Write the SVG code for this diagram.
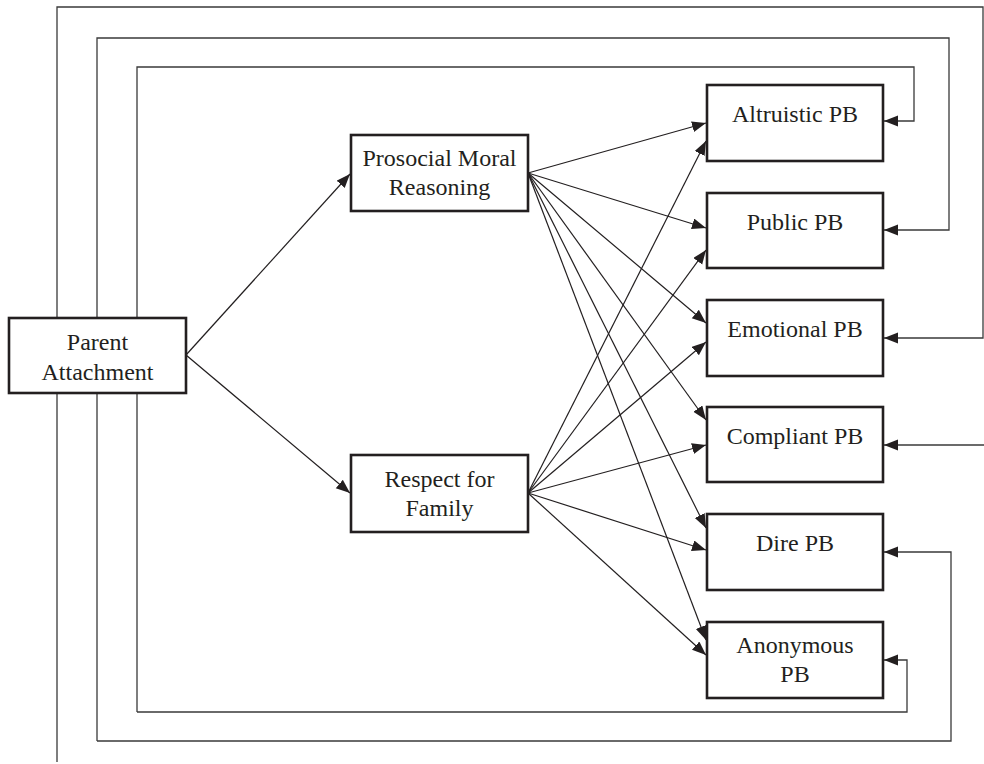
<svg xmlns="http://www.w3.org/2000/svg" width="984" height="764" viewBox="0 0 984 764">
<defs>
<marker id="ah" markerUnits="userSpaceOnUse" markerWidth="15" markerHeight="12" refX="14" refY="5.5" orient="auto">
<path d="M0,0 L14,5.5 L0,11 z" fill="#231f20"/>
</marker>
<style>
.box{fill:#fff;stroke:#231f20;stroke-width:2.6}
.t{font-family:"Liberation Serif","Times New Roman",serif;font-size:24px;fill:#231f20;text-anchor:middle}
.c{fill:none;stroke:#231f20;stroke-width:1.2;marker-end:url(#ah)}
.lp{fill:none;stroke:#3a3a3a;stroke-width:1.3}
</style>
</defs>
<rect width="984" height="764" fill="#fff"/>
<g id="connectors">
<path class="lp" d="M57,762 V7 H983 V338 H884" marker-end="url(#ah)"/>
<path class="lp" d="M984,445 H884" marker-end="url(#ah)"/>
<path class="lp" d="M97,741 V38 H949 V230 H884" marker-end="url(#ah)"/>
<path class="lp" d="M97,741 H951 V552 H884" marker-end="url(#ah)"/>
<path class="lp" d="M137,712 V67 H914 V121 H884" marker-end="url(#ah)"/>
<path class="lp" d="M137,712 H907 V660 H884" marker-end="url(#ah)"/>
<line class="c" x1="186" y1="355" x2="350" y2="174"/>
<line class="c" x1="186" y1="355" x2="350" y2="493"/>
<line class="c" x1="528" y1="173" x2="706" y2="123"/>
<line class="c" x1="528" y1="173" x2="706" y2="228"/>
<line class="c" x1="528" y1="173" x2="706" y2="323"/>
<line class="c" x1="528" y1="173" x2="706" y2="420"/>
<line class="c" x1="528" y1="173" x2="706" y2="528"/>
<line class="c" x1="528" y1="173" x2="706" y2="640"/>
<line class="c" x1="528" y1="493" x2="706" y2="141"/>
<line class="c" x1="528" y1="493" x2="706" y2="250"/>
<line class="c" x1="528" y1="493" x2="706" y2="342"/>
<line class="c" x1="528" y1="493" x2="706" y2="445"/>
<line class="c" x1="528" y1="493" x2="706" y2="550"/>
<line class="c" x1="528" y1="493" x2="706" y2="655"/>
</g>
<g id="parent">
<rect class="box" x="9" y="318" width="177" height="75"/>
<text class="t" x="97.5" y="350">Parent</text>
<text class="t" x="97.5" y="380">Attachment</text>
</g>
<g id="prosocial">
<rect class="box" x="351" y="135" width="177" height="76"/>
<text class="t" x="439.5" y="166">Prosocial Moral</text>
<text class="t" x="439.5" y="195">Reasoning</text>
</g>
<g id="respect">
<rect class="box" x="351" y="455" width="177" height="77"/>
<text class="t" x="439.5" y="487">Respect for</text>
<text class="t" x="439.5" y="516">Family</text>
</g>
<g id="altruistic">
<rect class="box" x="707" y="85" width="176" height="76"/>
<text class="t" x="795" y="122">Altruistic PB</text>
</g>
<g id="public">
<rect class="box" x="707" y="193" width="176" height="75"/>
<text class="t" x="795" y="230">Public PB</text>
</g>
<g id="emotional">
<rect class="box" x="707" y="300" width="176" height="76"/>
<text class="t" x="795" y="337">Emotional PB</text>
</g>
<g id="compliant">
<rect class="box" x="707" y="407" width="176" height="75"/>
<text class="t" x="795" y="444">Compliant PB</text>
</g>
<g id="dire">
<rect class="box" x="707" y="514" width="176" height="76"/>
<text class="t" x="795" y="551">Dire PB</text>
</g>
<g id="anonymous">
<rect class="box" x="707" y="622" width="176" height="76"/>
<text class="t" x="795" y="653">Anonymous</text>
<text class="t" x="795" y="682">PB</text>
</g>
</svg>
